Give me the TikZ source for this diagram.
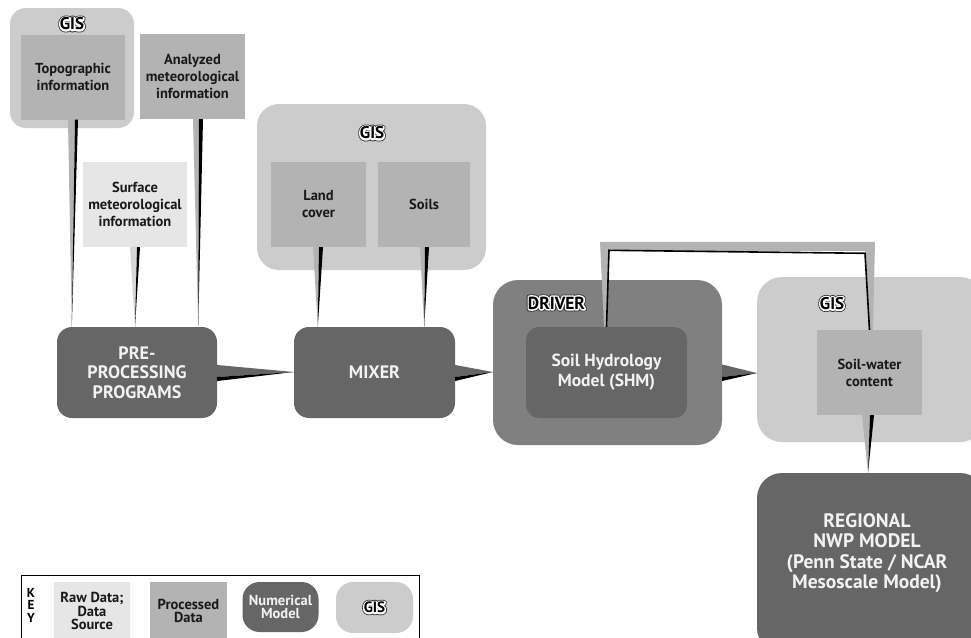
\documentclass[tikz,border=0pt]{standalone}
\usepackage{fontspec}
\setmainfont{PT Sans}
\usetikzlibrary{calc}
\definecolor{gisc}{HTML}{CCCCCC}
\definecolor{procc}{HTML}{B3B3B3}
\definecolor{rawc}{HTML}{E6E6E6}
\definecolor{numc}{HTML}{666666}
\definecolor{drvc}{HTML}{808080}
\definecolor{wrawc}{HTML}{D6D6D6}
\tikzset{
  box/.style={draw=none, inner sep=0pt, align=center, text=black!90,
    font=\bfseries\fontsize{14.5}{17}\selectfont},
  gisbox/.style={box, fill=gisc, rounded corners=16pt},
  procbox/.style={box, fill=procc},
  rawbox/.style={box, fill=rawc},
  numbox/.style={box, fill=numc, rounded corners=15pt, text=white!95!black,
    font=\bfseries\fontsize{18}{19.5}\selectfont},
  keytext/.style={font=\bfseries\fontsize{14.5}{13.5}\selectfont},
  halotxt/.style={inner sep=0pt, font=\bfseries\fontsize{17}{17}\selectfont},
}
% vertical tapered connector: colour, source anchor, left/break/right offsets, tip
\newcommand\vwedge[6]{%
  \fill[#1] ($(#2)+(#3,0)$) -- ($(#2)+(#4,0)$) -- (#6) -- cycle;
  \fill[black] ($(#2)+(#4,0)$) -- ($(#2)+(#5,0)$) -- (#6) -- cycle;}
% horizontal tapered connector: colour, source anchor, top/break/bottom offsets, tip
\newcommand\hwedge[6]{%
  \fill[#1] ($(#2)+(0,#3)$) -- ($(#2)+(0,#4)$) -- (#6) -- cycle;
  \fill[black] ($(#2)+(0,#4)$) -- ($(#2)+(0,#5)$) -- (#6) -- cycle;}
% stroked text: width, grey level, text
\newcommand\strk[3]{\special{pdf:literal direct 1 Tr #1 w 1 j #2 G}#3\special{pdf:literal direct 0 Tr 0.4 w 0 G}}
% outlined label: black letters, white halo, thin dark rim
\newcommand\halo[1]{\rlap{\strk{4.6}{0.2}{#1}}\rlap{\strk{3.0}{1}{#1}}#1}

\begin{document}
\begin{tikzpicture}[x=1pt,y=-1pt]
\clip (0,0) rectangle (971,637);
\fill[white] (0,0) rectangle (971,637);

% ---- top-left GIS and data sources
\node[gisbox, minimum width=124pt, minimum height=120pt] (gisA) at (72,68) {};
\node[procbox, minimum width=104pt, minimum height=85pt] (topo) at (73,77) {Topographic\\information};
\node[procbox, minimum width=105pt, minimum height=85pt] (anal) at (192.5,76.5) {Analyzed\\meteorological\\information};
\node[rawbox, minimum width=104pt, minimum height=85pt] (surf) at (135,204.5) {Surface\\meteorological\\information};

% ---- middle GIS
\node[gisbox, rounded corners=22pt, minimum width=229pt, minimum height=166pt] (gisB) at (371.5,187) {};
\node[procbox, minimum width=95pt, minimum height=85pt] (land) at (318.5,204.5) {Land\\cover};
\node[procbox, minimum width=92pt, minimum height=85pt] (soils) at (424,204.5) {Soils};

% ---- models
\node[numbox, minimum width=160pt, minimum height=91pt] (pre) at (137,372.5) {PRE-\\PROCESSING\\PROGRAMS};
\node[numbox, minimum width=161pt, minimum height=91pt] (mixer) at (374.5,372.5) {MIXER};
\node[box, fill=drvc, rounded corners=25pt, minimum width=229pt, minimum height=165pt] (driver) at (607.5,362.5) {};
\node[numbox, font=\bfseries\fontsize{17.5}{20}\selectfont, rounded corners=13pt, minimum width=161pt, minimum height=91pt] (shm) at (606.5,372.5) {Soil Hydrology\\Model (SHM)};

% ---- right GIS and NWP model
\node[gisbox, rounded corners=25pt, minimum width=228pt, minimum height=165pt] (gisC) at (871,359.5) {};
\node[procbox, minimum width=105pt, minimum height=85pt] (swc) at (869.5,372.5) {Soil-water\\content};
\node[numbox, rounded corners=25pt, minimum width=228pt, minimum height=180pt] (nwp) at (871,563) {};
\node[numbox, fill=none, font=\bfseries\fontsize{19.5}{20.5}\selectfont] (nwptext) at (867,553) {REGIONAL\\NWP MODEL\\(Penn State / NCAR\\Mesoscale Model)};

% ---- connectors
\vwedge{procc}{topo.south}{-5}{2}{5}{$(pre.north west)+(15,0)$}
\vwedge{procc}{anal.south}{0.5}{6.5}{10.5}{$(pre.north east)+(-19,0)$}
\vwedge{wrawc}{surf.south}{-5}{2}{5}{$(pre.north)+(-2,0)$}
\vwedge{procc}{land.south}{-5.5}{0.5}{4.5}{$(mixer.north west)+(24,0)$}
\vwedge{procc}{soils.south}{-4}{1}{5}{$(mixer.north east)+(-31,0)$}
\hwedge{numc}{pre.east}{-7.5}{4.5}{8.5}{$(mixer.west)+(0,-0.5)$}
\hwedge{numc}{mixer.east}{-7.5}{4.5}{8.5}{$(mixer.east -| driver.west)+(0,-0.5)$}
\hwedge{numc}{shm.east -| driver.east}{-8}{4.5}{8.5}{$(shm.east -| gisC.west)+(0,0.5)$}
\vwedge{procc}{swc.south}{-7.5}{0.5}{4.5}{$(nwp.north)+(-3,0)$}
% bent feedback connector SHM -> soil-water content
\fill[procc] ($(shm.north)+(-2.5,0)$) -- ($(shm.north)+(-6.5,-85)$)
  -- ($(swc.north)+(5.5,-88)$) -- ($(swc.north)+(3.5,0)$) -- ($(swc.north)+(-1,0)$)
  -- ($(swc.north)+(-4.5,-79)$) -- ($(shm.north)+(2.5,-76)$) -- ($(shm.north)+(0.5,0)$) -- cycle;
\draw[black, line width=1.6pt, line join=miter] ($(shm.north)+(0,0)$) -- ($(shm.north)+(2.5,-76.5)$)
  -- ($(swc.north)+(-4.5,-76.5)$) -- ($(swc.north)+(0,0)$);

% ---- outlined labels
\node[halotxt] (gisAlbl) at (72,24) {\halo{GIS}};
\node[halotxt] (gisBlbl) at (372,133) {\halo{GIS}};
\node[halotxt] (gisClbl) at (832,303.5) {\halo{GIS}};
\node[halotxt, font=\bfseries\fontsize{17.5}{17.5}\selectfont] (drvlbl) at (556.5,303) {\halo{DRIVER}};

% ---- key
\node[draw=black, line width=1pt, inner sep=0pt, minimum width=398pt, minimum height=80pt, anchor=north west] (key) at (21,575) {};
\node[align=center, inner sep=0pt, font=\bfseries\fontsize{13}{12.5}\selectfont] (keyl) at (31,605) {K\\E\\Y};
\node[rawbox, keytext, minimum width=76pt, minimum height=58pt] (kraw) at (92,611) {Raw Data;\\Data\\Source};
\node[procbox, keytext, minimum width=77pt, minimum height=58pt] (kproc) at (188.5,611) {Processed\\Data};
\node[numbox, keytext, rounded corners=17pt, minimum width=76pt, minimum height=50pt] (knum) at (280.5,607) {Numerical\\Model};
\node[gisbox, rounded corners=17pt, minimum width=77pt, minimum height=51pt] (kgis) at (374.5,607.5) {};
\node[halotxt, font=\bfseries\fontsize{15}{15}\selectfont] (kgislbl) at (374.5,607.5) {\halo{GIS}};
\end{tikzpicture}
\end{document}
